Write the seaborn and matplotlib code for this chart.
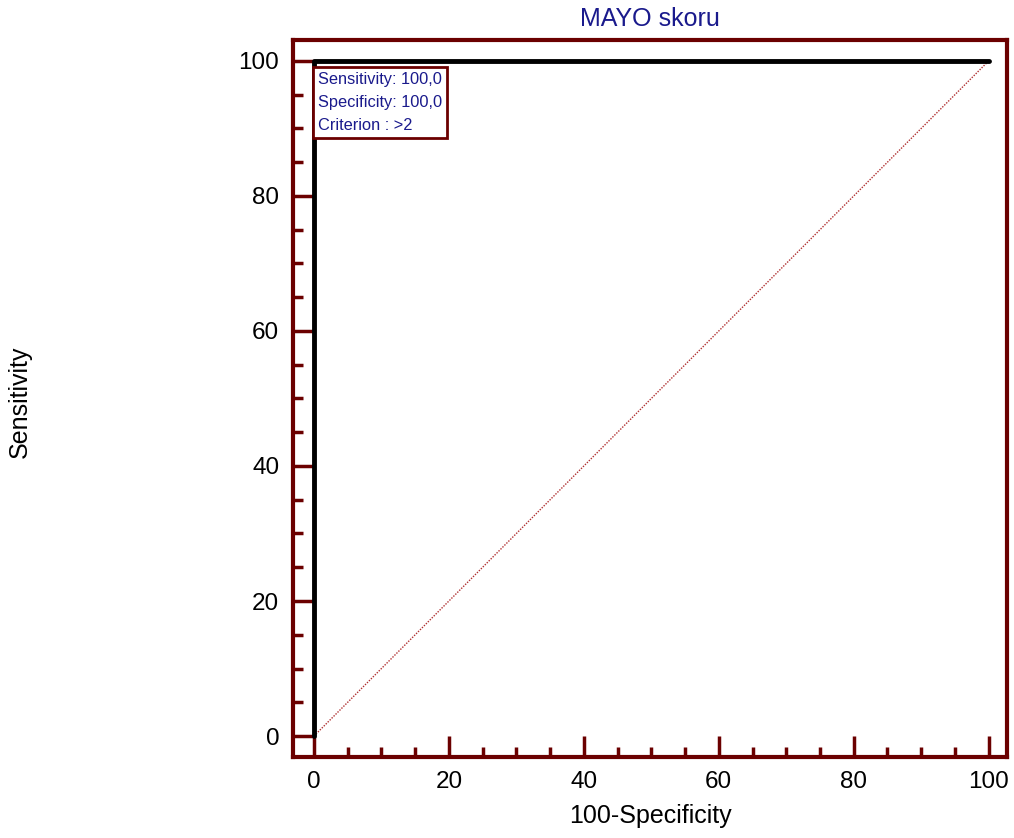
import numpy as np
import pandas as pd
import seaborn as sns
from matplotlib import pyplot as plt
from matplotlib.ticker import MultipleLocator

# data
fpr = [0, 0, 100]          # 100-Specificity
tpr = [0, 100, 100]        # Sensitivity
diag_x = [0, 100]
diag_y = [0, 100]
title = 'MAYO skoru'
info_lines = ['Sensitivity: 100,0', 'Specificity: 100,0', 'Criterion : >2']

sns.set_style('white')
plt.rcParams['font.family'] = ['Liberation Sans', 'DejaVu Sans']
plt.rcParams['text.color'] = 'black'
plt.rcParams['axes.labelcolor'] = 'black'
plt.rcParams['xtick.color'] = 'black'
plt.rcParams['ytick.color'] = 'black'

maroon = '#6b0000'
navy = '#1a1a8c'

roc = pd.DataFrame({'fpr': fpr, 'tpr': tpr})
diag = pd.DataFrame({'x': diag_x, 'y': diag_y})

fig = plt.figure(figsize=(10.14, 8.38), dpi=100)
ax = fig.add_axes([0.289, 0.0967, 0.704, 0.8556])

sns.lineplot(data=diag, x='x', y='y', ax=ax, color='#b03030', lw=1,
             linestyle=(0, (1, 1)), sort=False, estimator=None)
sns.lineplot(data=roc, x='fpr', y='tpr', ax=ax, color='black', lw=3.5,
             sort=False, estimator=None)

ax.set_xlim(-3.1, 102.7)
ax.set_ylim(-3.1, 103.1)

ax.xaxis.set_major_locator(MultipleLocator(20))
ax.xaxis.set_minor_locator(MultipleLocator(5))
ax.yaxis.set_major_locator(MultipleLocator(20))
ax.yaxis.set_minor_locator(MultipleLocator(5))
ax.tick_params(which='both', bottom=True, left=True, top=False, right=False)
ax.tick_params(which='major', direction='in', length=15, width=2.5,
               color=maroon, labelcolor='black', labelsize=17.5, pad=10)
ax.tick_params(which='minor', direction='in', length=7, width=2.5,
               color=maroon)

for sp in ax.spines.values():
    sp.set_color(maroon)
    sp.set_linewidth(3)

ax.set_title(title, color=navy, fontsize=18, pad=10)
ax.set_xlabel('100-Specificity', fontsize=18, labelpad=8, color='black')
ax.set_ylabel('')
fig.text(0.02, 0.52, 'Sensitivity', rotation=90, fontsize=18,
         ha='center', va='center', color='black')

ax.text(0.6, 98.3, '\n'.join(info_lines), color=navy, fontsize=11.8,
        va='top', ha='left', linespacing=1.65,
        bbox=dict(boxstyle='square,pad=0.3', fc='white', ec=maroon, lw=2))

plt.savefig('out.png', dpi=100)
